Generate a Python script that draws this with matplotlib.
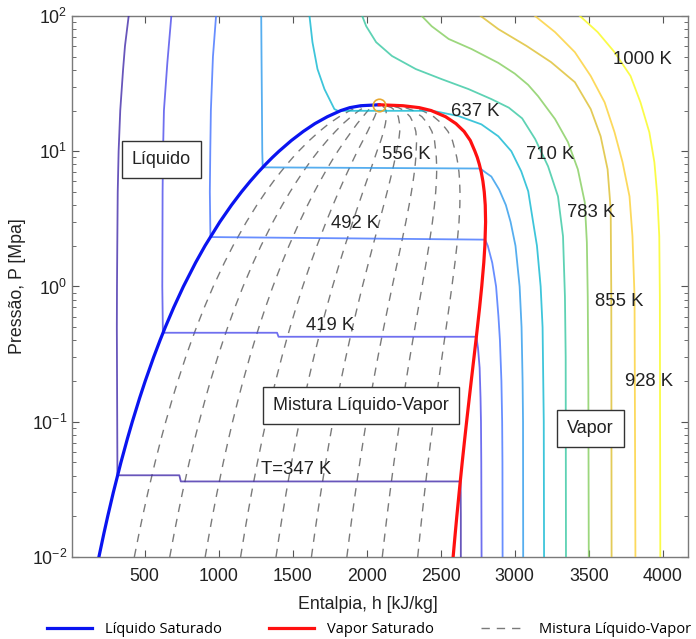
import numpy as np
import matplotlib
matplotlib.use("Agg")
import matplotlib.pyplot as plt
from matplotlib.lines import Line2D
from matplotlib.ticker import LogLocator, FixedLocator

plt.rcParams['font.family'] = ['Liberation Sans', 'DejaVu Sans']
plt.rcParams['mathtext.fontset'] = 'custom'
plt.rcParams['mathtext.rm'] = 'Liberation Sans'
plt.rcParams['mathtext.it'] = 'Liberation Sans:italic'

# saturation curve (P in MPa, h in kJ/kg)
P_sat = [0.01, 0.015, 0.02, 0.03, 0.05, 0.075, 0.1, 0.15, 0.2, 0.3, 0.4, 0.5, 0.7, 1.0, 1.5,
         2.0, 3.0, 4.0, 5.0, 6.0, 7.0, 8.0, 9.0, 10.0, 12.0, 14.0, 16.0, 18.0, 20.0, 21.0,
         21.7, 22.064]
h_liq = [191.8, 225.9, 251.4, 289.2, 340.5, 384.4, 417.5, 467.1, 504.7, 561.4, 604.7, 640.1,
         697.1, 762.5, 844.7, 908.5, 1008.3, 1087.4, 1154.5, 1213.9, 1267.7, 1317.3, 1363.7,
         1408.1, 1491.5, 1571.7, 1650.5, 1734.8, 1826.6, 1886.3, 1960.0, 2084.3]
h_vap = [2583.9, 2598.3, 2608.9, 2624.6, 2645.2, 2662.4, 2674.9, 2693.1, 2706.2, 2724.9,
         2738.1, 2748.1, 2762.8, 2777.1, 2791.0, 2798.3, 2803.2, 2800.8, 2794.2, 2785.0,
         2774.0, 2761.0, 2747.0, 2731.0, 2700.0, 2658.0, 2603.0, 2533.0, 2435.0, 2355.0,
         2245.0, 2084.3]
qualities = [0.1, 0.2, 0.3, 0.4, 0.5, 0.6, 0.7, 0.8, 0.9]

# isotherms
iso_347_h = [393, 368, 355, 336, 325, 319, 316, 314, 313, 317, 735, 745, 2634, 2635, 2636, 2636]
iso_347_P = [100, 60, 40, 20, 10, 5, 2, 1, 0.5, 0.0402, 0.0402, 0.0362, 0.0362, 0.03, 0.02, 0.01]
iso_419_h = [681, 654, 631, 625, 622, 620, 624, 1395, 1405, 2741, 2752, 2763, 2769, 2772, 2774, 2776]
iso_419_P = [100, 45, 20, 10, 5, 1, 0.455, 0.455, 0.425, 0.425, 0.35, 0.25, 0.15, 0.1, 0.05, 0.01]
iso_492_h = [983, 962, 948, 944, 941, 945, 2800, 2818, 2848, 2874, 2890, 2900, 2910, 2915, 2917, 2918]
iso_492_P = [100, 50, 20, 10, 5, 2.32, 2.22, 2.0, 1.5, 1.0, 0.6, 0.4, 0.2, 0.1, 0.05, 0.01]
iso_564_h = [1288, 1290, 1293, 1295, 1298, 2768, 2800, 2842, 2895, 2940, 2972, 3005, 3033, 3046,
             3053, 3056, 3057]
iso_564_P = [100, 50, 20, 10, 7.6, 7.45, 7.0, 6.5, 5.2, 4.0, 3.0, 2.0, 1.0, 0.5, 0.2, 0.1, 0.01]
iso_637_h = [1614, 1634, 1668, 1715, 1782, 1805, 2440, 2487, 2621, 2775, 2889, 2977,
             3044, 3091, 3124, 3150, 3175, 3188, 3196, 3198]
iso_637_P = [100, 64, 40.5, 28.8, 20.5, 19.9, 19.9, 19.5, 18.2, 15.8, 12.9, 10, 7.1, 5.06, 3.0,
             2.0, 1.0, 0.5, 0.1, 0.01]
iso_710_h = [1970, 1997, 2064, 2171, 2332, 2507, 2688, 2842, 2960, 3050, 3138, 3225, 3292, 3326,
             3339, 3344, 3346]
iso_710_P = [100, 84, 64, 50.6, 40.5, 34.1, 28.8, 24.3, 21, 17.5, 12.3, 7.74, 4.64, 2.35, 0.84,
             0.3, 0.01]
iso_783_h = [2372, 2439, 2554, 2708, 2889, 3000, 3090, 3158, 3272, 3359, 3426, 3473, 3487, 3493,
             3497, 3500]
iso_783_P = [100, 84, 67.6, 57, 45, 37.5, 31, 25.5, 17.3, 11.7, 7.36, 4.19, 2.12, 0.84, 0.2, 0.01]
iso_855_h = [2770, 2889, 3080, 3245, 3406, 3513, 3580, 3627, 3648, 3652, 3654]
iso_855_P = [100, 80, 60, 45.6, 32.4, 20.5, 12.9, 7.36, 3.72, 0.84, 0.01]
iso_928_h = [3137, 3272, 3406, 3513, 3607, 3674, 3728, 3775, 3795, 3809, 3815]
iso_928_P = [100, 76, 54, 36, 23, 13.8, 8.3, 4.64, 2.35, 0.84, 0.01]
iso_1000_h = [3440, 3560, 3674, 3782, 3849, 3909, 3943, 3963, 3976, 3980, 3983]
iso_1000_P = [100, 76, 54, 36, 23, 13.8, 8.3, 4.64, 2.35, 0.84, 0.01]

isotherms = [(iso_347_h, iso_347_P), (iso_419_h, iso_419_P), (iso_492_h, iso_492_P),
             (iso_564_h, iso_564_P), (iso_637_h, iso_637_P), (iso_710_h, iso_710_P),
             (iso_783_h, iso_783_P), (iso_855_h, iso_855_P), (iso_928_h, iso_928_P),
             (iso_1000_h, iso_1000_P)]

# parula-like colours
iso_colors = [(0.2422, 0.1504, 0.6603), (0.2803, 0.2782, 0.9221), (0.2440, 0.4358, 0.9988),
              (0.1540, 0.5902, 0.9218), (0.0297, 0.7082, 0.8163), (0.1938, 0.7758, 0.6251),
              (0.5044, 0.7993, 0.3480), (0.8634, 0.7406, 0.1596), (0.9892, 0.8136, 0.1885),
              (0.9769, 0.9839, 0.0805)]

# labels: text, h, P
iso_labels = [("T=347 K", 1527, 0.044), ("419 K", 1755, 0.514), ("492 K", 1923, 2.93),
              ("556 K", 2265, 9.5), ("637 K", 2735, 19.8), ("710 K", 3238, 9.5),
              ("783 K", 3513, 3.53), ("855 K", 3708, 0.775), ("928 K", 3909, 0.198),
              ("1000 K", 3862, 48)]
region_labels = [("Líquido", 614, 8.7), ("Mistura Líquido-Vapor", 1960, 0.1315),
                 ("Vapor", 3513, 0.0895)]

fig = plt.figure(figsize=(6.96, 6.39), dpi=100)
ax = fig.add_axes([0.1034, 0.1283, 0.8851, 0.8467])

hl = np.array(h_liq)
hv = np.array(h_vap)
for q in qualities:
    ax.plot(hl + q * (hv - hl), P_sat, color='0.48', lw=1.0, dashes=(6, 5), zorder=2)

for (h, P), c in zip(isotherms, iso_colors):
    ax.plot(h, P, color=c, lw=1.3, alpha=0.78, zorder=3)

ax.plot(h_liq, P_sat, color='#0a14f0', lw=2.3, zorder=4)
ax.plot(h_vap, P_sat, color='#ff1010', lw=2.3, zorder=4)
ax.plot([h_liq[-1]], [P_sat[-1]], 'o', ms=9, mfc='none', mec='#e8a830', mew=1.2, zorder=5)

for txt, h, P in iso_labels:
    ax.text(h, P, txt, fontsize=13.3, ha='center', va='center', color='#222222', zorder=6)
for txt, h, P in region_labels:
    ax.text(h, P, txt, fontsize=13, ha='center', va='center', color='#222222', zorder=6,
            bbox=dict(boxstyle='square,pad=0.55', fc='white', ec='#333333', lw=1.0))

ax.set_yscale('log')
ax.set_xlim(10, 4170)
ax.set_ylim(0.01, 100)
ax.xaxis.set_major_locator(FixedLocator([500, 1000, 1500, 2000, 2500, 3000, 3500, 4000]))
ax.yaxis.set_major_locator(LogLocator(base=10))
ax.yaxis.set_minor_locator(LogLocator(base=10, subs=np.arange(2, 10)))
ax.tick_params(which='both', direction='in', top=True, right=True, colors='#555555',
               labelcolor='#222222', labelsize=12.8)
ax.tick_params(axis='x', pad=8)
ax.tick_params(which='major', length=5)
ax.tick_params(which='minor', length=3)
for s in ax.spines.values():
    s.set_color('#7a7a7a')
    s.set_linewidth(1.0)

ax.set_xlabel("Entalpia, h [kJ/kg]", fontsize=12.8, color='#222222', labelpad=9)
ax.xaxis.set_label_coords(0.48, -0.072)
ax.set_ylabel("Pressão, P [Mpa]", fontsize=12.8, color='#222222', labelpad=4)

handles = [Line2D([], [], color='#0a14f0', lw=2.3),
           Line2D([], [], color='#ff1010', lw=2.3),
           Line2D([], [], color='0.48', lw=1.0, dashes=(6, 5))]
fig.legend(handles, ["Líquido Saturado", "Vapor Saturado", "Mistura Líquido-Vapor"],
           loc='lower center', bbox_to_anchor=(0.53, -0.018), ncol=3, frameon=False,
           handlelength=3.1, handletextpad=0.9, columnspacing=3.2,
           prop={'family': 'Open Sans', 'size': 10.5})

fig.savefig("out.png", dpi=100)
